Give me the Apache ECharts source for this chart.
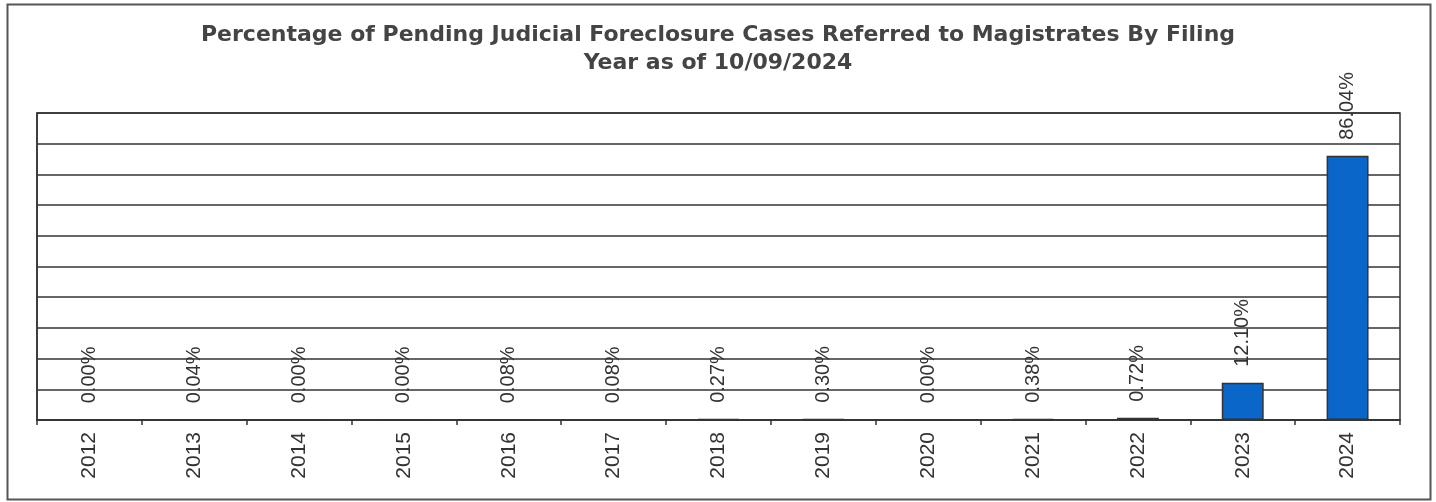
<!DOCTYPE html>
<html><head><meta charset="utf-8">
<script src="https://cdn.jsdelivr.net/npm/echarts@6/dist/echarts.min.js"></script>
<style>html,body{margin:0;padding:0;background:#fff}#c{width:1436px;height:502px}</style>
</head><body><div id="c"></div>
<script>
const categories = ['2012','2013','2014','2015','2016','2017','2018','2019','2020','2021','2022','2023','2024'];
const percentages = [0.00, 0.04, 0.00, 0.00, 0.08, 0.08, 0.27, 0.30, 0.00, 0.38, 0.72, 12.10, 86.04];
const titleText = 'Percentage of Pending Judicial Foreclosure Cases Referred to Magistrates By Filing\nYear as of 10/09/2024';
const FONT = "'Liberation Sans', Arial, sans-serif";

const chart = echarts.init(document.getElementById('c'), null, {renderer:'canvas'});
chart.setOption({
  animation: false,
  backgroundColor: '#fff',
  graphic: [{
    type: 'rect', left: 5, top: 2, z: -1,
    shape: {width: 1423, height: 495},
    style: {fill: 'none', stroke: '#555', lineWidth: 2}
  }],
  title: {
    text: titleText, left: 'center', top: 16,
    textStyle: {fontFamily: "'DejaVu Sans', sans-serif", fontWeight: 'bold', fontSize: 22, color: '#444', lineHeight: 28}
  },
  grid: {left: 37, right: 36, top: 113, bottom: 82, show: true, borderColor: '#333', borderWidth: 1.5, backgroundColor: 'transparent'},
  xAxis: {
    type: 'category', data: categories,
    axisLine: {lineStyle: {color: '#333', width: 1.5}},
    axisTick: {show: true, length: 5, lineStyle: {color: '#333', width: 1.5}},
    axisLabel: {rotate: 90, fontFamily: FONT, fontSize: 21, color: '#333', margin: 12}
  },
  yAxis: {
    type: 'value', min: 0, max: 100, interval: 10,
    axisLabel: {show: false}, axisTick: {show: false},
    axisLine: {show: true, lineStyle: {color: '#333', width: 1.5}},
    splitLine: {lineStyle: {color: '#333', width: 1.5}}
  },
  series: [{
    type: 'bar', data: percentages, barWidth: '40%',
    itemStyle: {color: '#0a66c8', borderColor: '#333', borderWidth: 1.5},
    label: {
      show: true, position: 'top', rotate: 90, align: 'left', verticalAlign: 'middle', distance: 16,
      fontFamily: FONT, fontSize: 20, color: '#333',
      formatter: p => p.value.toFixed(2) + '%'
    }
  }]
});
</script></body></html>
